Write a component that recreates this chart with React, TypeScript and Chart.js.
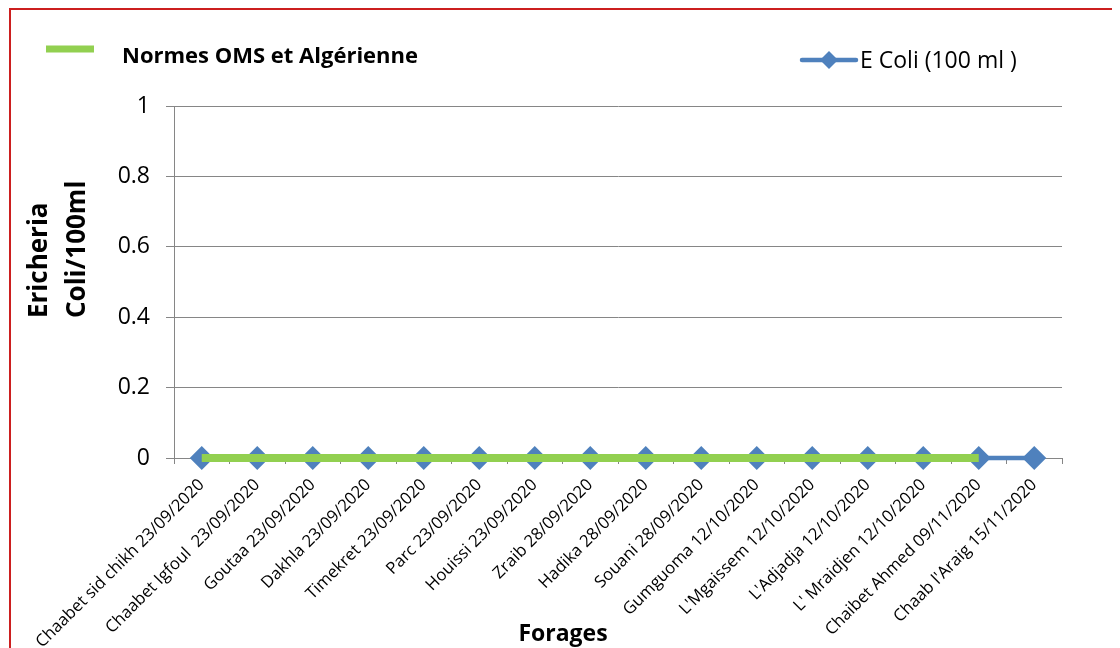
import React, { useEffect, useRef } from "react";
import { Chart, registerables } from "chart.js";

Chart.register(...registerables);

const categories = [
  "Chaabet sid chikh 23/09/2020",
  "Chaabet Igfoul  23/09/2020",
  "Goutaa 23/09/2020",
  "Dakhla 23/09/2020",
  "Timekret 23/09/2020",
  "Parc 23/09/2020",
  "Houissi 23/09/2020",
  "Zraib 28/09/2020",
  "Hadika 28/09/2020",
  "Souani 28/09/2020",
  "Gumguoma 12/10/2020",
  "L'Mgaissem 12/10/2020",
  "L'Adjadja 12/10/2020",
  "L' Mraidjen 12/10/2020",
  "Chaibet Ahmed 09/11/2020",
  "Chaab l'Araig 15/11/2020",
];

const eColiValues = [0, 0, 0, 0, 0, 0, 0, 0, 0, 0, 0, 0, 0, 0, 0, 0];
const normValues = [0, 0, 0, 0, 0, 0, 0, 0, 0, 0, 0, 0, 0, 0, 0, null];

const yMin = 0;
const yMax = 1;
const yStep = 0.2;

const eColiName = "E Coli (100 ml )";
const normName = "Normes OMS et Algérienne";
const xTitle = "Forages";
const yTitleLines = ["Ericheria", "Coli/100ml"];

const W = 1112;
const H = 640;
const FONT = "'Open Sans', 'DejaVu Sans', sans-serif";
const BLUE = "#4F81BD";
const GREEN = "#92D050";
const GRID = "#868686";

const decorPlugin = {
  id: "decor",
  afterDraw(chart: any) {
    const ctx = chart.ctx as CanvasRenderingContext2D;
    ctx.save();
    // Green legend
    ctx.strokeStyle = GREEN;
    ctx.lineWidth = 7;
    ctx.lineCap = "butt";
    ctx.beginPath();
    ctx.moveTo(38, 41);
    ctx.lineTo(86, 41);
    ctx.stroke();
    ctx.fillStyle = "#000";
    ctx.font = `bold 22px ${FONT}`;
    ctx.textAlign = "left";
    ctx.textBaseline = "middle";
    ctx.fillText(normName, 114, 49);

    // Blue legend
    const ly = 52;
    ctx.strokeStyle = BLUE;
    ctx.lineWidth = 4.5;
    ctx.lineCap = "round";
    ctx.beginPath();
    ctx.moveTo(794, ly);
    ctx.lineTo(848, ly);
    ctx.stroke();
    ctx.fillStyle = BLUE;
    ctx.beginPath();
    const cx = 821;
    const r = 9;
    ctx.moveTo(cx - r, ly);
    ctx.lineTo(cx, ly - r);
    ctx.lineTo(cx + r, ly);
    ctx.lineTo(cx, ly + r);
    ctx.closePath();
    ctx.fill();
    ctx.fillStyle = "#000";
    ctx.font = `23px ${FONT}`;
    ctx.fillText(eColiName, 852, ly + 1);

    // Y title (two lines, rotated)
    ctx.font = `bold 26px ${FONT}`;
    ctx.textAlign = "left";
    ctx.textBaseline = "middle";
    const xs = [32, 70];
    yTitleLines.forEach((t, i) => {
      ctx.save();
      ctx.translate(xs[i], 310);
      ctx.rotate(-Math.PI / 2);
      ctx.fillText(t, 0, 0);
      ctx.restore();
    });

    // X title
    ctx.font = `bold 23px ${FONT}`;
    ctx.textAlign = "center";
    ctx.textBaseline = "alphabetic";
    ctx.fillText(xTitle, 555, 633);
    ctx.restore();
  },
};

export default function App() {
  const ref = useRef<HTMLCanvasElement | null>(null);

  useEffect(() => {
    if (!ref.current) return;
    const chart = new Chart(ref.current, {
      type: "line",
      data: {
        labels: categories,
        datasets: [
          {
            label: normName,
            data: normValues,
            borderColor: GREEN,
            backgroundColor: GREEN,
            borderWidth: 8,
            pointRadius: 0,
            order: 0,
            clip: false,
            spanGaps: false,
          },
          {
            label: eColiName,
            data: eColiValues,
            borderColor: BLUE,
            backgroundColor: BLUE,
            borderWidth: 4.5,
            pointStyle: "rectRot",
            pointRadius: 12,
            pointBorderWidth: 0,
            order: 1,
            clip: false,
          },
        ],
      } as any,
      options: {
        responsive: false,
        animation: false,
        devicePixelRatio: 1,
        layout: { padding: { top: 98, right: 58, left: 0, bottom: 0 } },
        plugins: {
          legend: { display: false },
          tooltip: { enabled: false },
          title: { display: false },
        },
        scales: {
          x: {
            type: "category",
            offset: true,
            grid: {
              offset: true,
              drawOnChartArea: false,
              drawTicks: true,
              tickLength: 6,
              color: GRID,
            },
            border: { color: GRID, width: 1 },
            ticks: {
              autoSkip: false,
              minRotation: 45,
              maxRotation: 45,
              color: "#000",
              padding: 11,
              font: { family: FONT, size: 16.7 },
            },
            afterFit(s: any) {
              s.height = 190;
            },
          },
          y: {
            min: yMin,
            max: yMax,
            ticks: {
              stepSize: yStep,
              color: "#000",
              padding: 16,
              font: { family: FONT, size: 23 },
              callback: (v: any) => String(Number(Number(v).toFixed(1))),
            },
            grid: { color: GRID, tickLength: 8, lineWidth: 1 },
            border: { color: GRID, width: 1 },
            afterFit(s: any) {
              s.width = 166;
            },
          },
        },
      } as any,
      plugins: [decorPlugin],
    });
    return () => chart.destroy();
  }, []);

  return (
    <div style={{ position: "relative", width: W, height: H, overflow: "hidden" }}>
      <div
        style={{
          position: "absolute",
          left: 1,
          top: 0,
          width: 1300,
          height: 900,
          border: "2px solid #cc1f1f",
        }}
      />
      <canvas
        ref={ref}
        width={W}
        height={H}
        style={{ position: "absolute", left: 0, top: 0, width: W, height: H }}
      />
    </div>
  );
}
